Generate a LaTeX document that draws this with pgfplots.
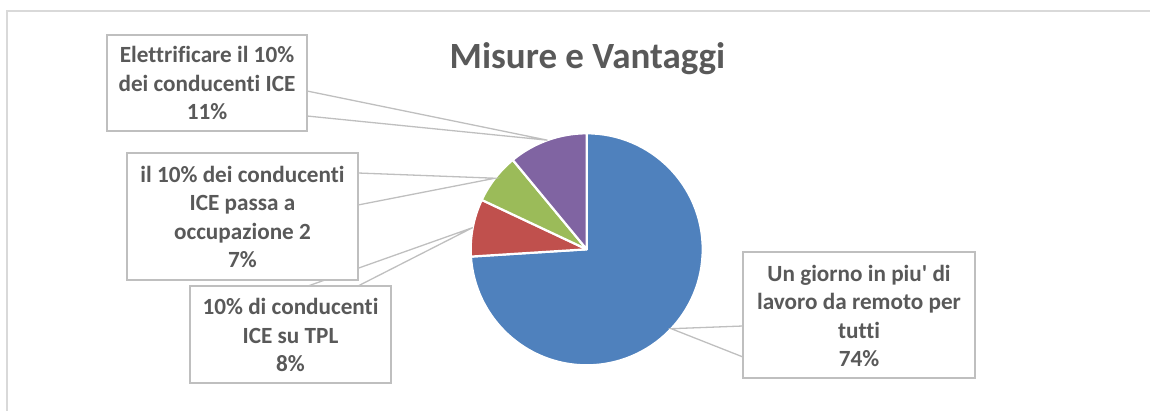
\documentclass[border=0pt]{standalone}
\usepackage{pgfplots}
\pgfplotsset{compat=1.18}
\usepackage{pgfplotstable}
\usepackage{fontspec}
\setmainfont{Carlito}[Ligatures={NoCommon}]

\definecolor{sBlue}{HTML}{4F81BD}
\definecolor{sRed}{HTML}{C0504D}
\definecolor{sGreen}{HTML}{9BBB59}
\definecolor{sPurple}{HTML}{8064A2}
\definecolor{txtC}{HTML}{595959}
\definecolor{leadC}{HTML}{BFBFBF}
\definecolor{frameC}{HTML}{D9D9D9}

\pgfplotstableread{
slice value
blue 74
red 8
green 7
purple 11
}\piedata

\begin{document}
\begin{tikzpicture}
\pgfplotstablegetelem{0}{value}\of\piedata\edef\vA{\pgfplotsretval}
\pgfplotstablegetelem{1}{value}\of\piedata\edef\vB{\pgfplotsretval}
\pgfplotstablegetelem{2}{value}\of\piedata\edef\vC{\pgfplotsretval}
\pgfplotstablegetelem{3}{value}\of\piedata\edef\vD{\pgfplotsretval}
\pgfmathsetmacro\tot{\vA+\vB+\vC+\vD}
\pgfmathsetmacro\aA{90}
\pgfmathsetmacro\aB{\aA-(\vA/\tot)*360}
\pgfmathsetmacro\aC{\aB-(\vB/\tot)*360}
\pgfmathsetmacro\aD{\aC-(\vC/\tot)*360}
\pgfmathsetmacro\aE{\aD-(\vD/\tot)*360}
\pgfmathsetmacro\mA{(\aA+\aB)/2}
\pgfmathsetmacro\mB{(\aB+\aC)/2}
\pgfmathsetmacro\mC{(\aC+\aD)/2}
\pgfmathsetmacro\mD{(\aD+\aE)/2}
\def\cx{586.7}
\def\cy{249.3}
\def\R{116bp}
\begin{axis}[scale only axis, width=1150bp, height=411bp,
  xmin=0, xmax=1150, ymin=0, ymax=411, y dir=reverse,
  xtick=\empty, ytick=\empty,
  hide axis, clip=false, anchor=south west, at={(0,0)}]
% frame
\draw[frameC, line width=1.8bp] (axis cs:1150,11) -- (axis cs:7,11) -- (axis cs:7,411);
% pie sectors
\filldraw[fill=sBlue, draw=white, line width=2.2bp, line join=round]
  (axis cs:\cx,\cy) -- ++(\aA:\R) arc[start angle=\aA, end angle=\aB, radius=\R] -- cycle;
\filldraw[fill=sRed, draw=white, line width=2.2bp, line join=round]
  (axis cs:\cx,\cy) -- ++(\aB:\R) arc[start angle=\aB, end angle=\aC, radius=\R] -- cycle;
\filldraw[fill=sGreen, draw=white, line width=2.2bp, line join=round]
  (axis cs:\cx,\cy) -- ++(\aC:\R) arc[start angle=\aC, end angle=\aD, radius=\R] -- cycle;
\filldraw[fill=sPurple, draw=white, line width=2.2bp, line join=round]
  (axis cs:\cx,\cy) -- ++(\aD:\R) arc[start angle=\aD, end angle=\aE, radius=\R] -- cycle;
% leaders
\draw[leadC, line width=1.3bp] (axis cs:307,91) -- ([shift={(\mD:\R)}]axis cs:\cx,\cy) -- (axis cs:307,116);
\draw[leadC, line width=1.3bp] (axis cs:358,173) -- ([shift={(\mC:\R)}]axis cs:\cx,\cy) -- (axis cs:358,205);
\draw[leadC, line width=1.3bp] (axis cs:308,286) -- ([shift={(\mB:\R)}]axis cs:\cx,\cy) -- (axis cs:358,286);
\draw[leadC, line width=1.3bp] (axis cs:743,326) -- ([shift={(\mA:\R)}]axis cs:\cx,\cy) -- (axis cs:743,357);
% boxes
\filldraw[fill=white, draw=leadC, line width=1.3bp] (axis cs:190,286) rectangle (axis cs:391,383);
\filldraw[fill=white, draw=leadC, line width=1.3bp] (axis cs:127,153) rectangle (axis cs:358,280);
\filldraw[fill=white, draw=leadC, line width=1.3bp] (axis cs:107,35) rectangle (axis cs:307,131);
\filldraw[fill=white, draw=leadC, line width=1.3bp] (axis cs:743,252) rectangle (axis cs:975,378);
% labels
\tikzset{lab/.style={align=center, inner sep=0pt, text=txtC, font=\fontsize{23.2bp}{28.5bp}\selectfont\bfseries}}
\node[lab] at (axis cs:207,83) {Elettrificare il 10\%\\dei conducenti ICE\\11\%};
\node[lab] at (axis cs:242.5,217) {il 10\% dei conducenti\\ICE passa a\\occupazione 2\\7\%};
\node[lab] at (axis cs:290.5,335) {10\% di conducenti\\ICE su TPL\\8\%};
\node[lab] at (axis cs:859,316) {Un giorno in piu\textquotesingle{} di\\lavoro da remoto per\\tutti\\74\%};
% title
\node[inner sep=0pt, text=txtC, font=\fontsize{37bp}{44bp}\selectfont\bfseries] at (axis cs:587.5,59) {Misure e Vantaggi};
\end{axis}
\pgfresetboundingbox
\path[use as bounding box] (0,0) rectangle (1150bp,411bp);
\end{tikzpicture}
\end{document}
